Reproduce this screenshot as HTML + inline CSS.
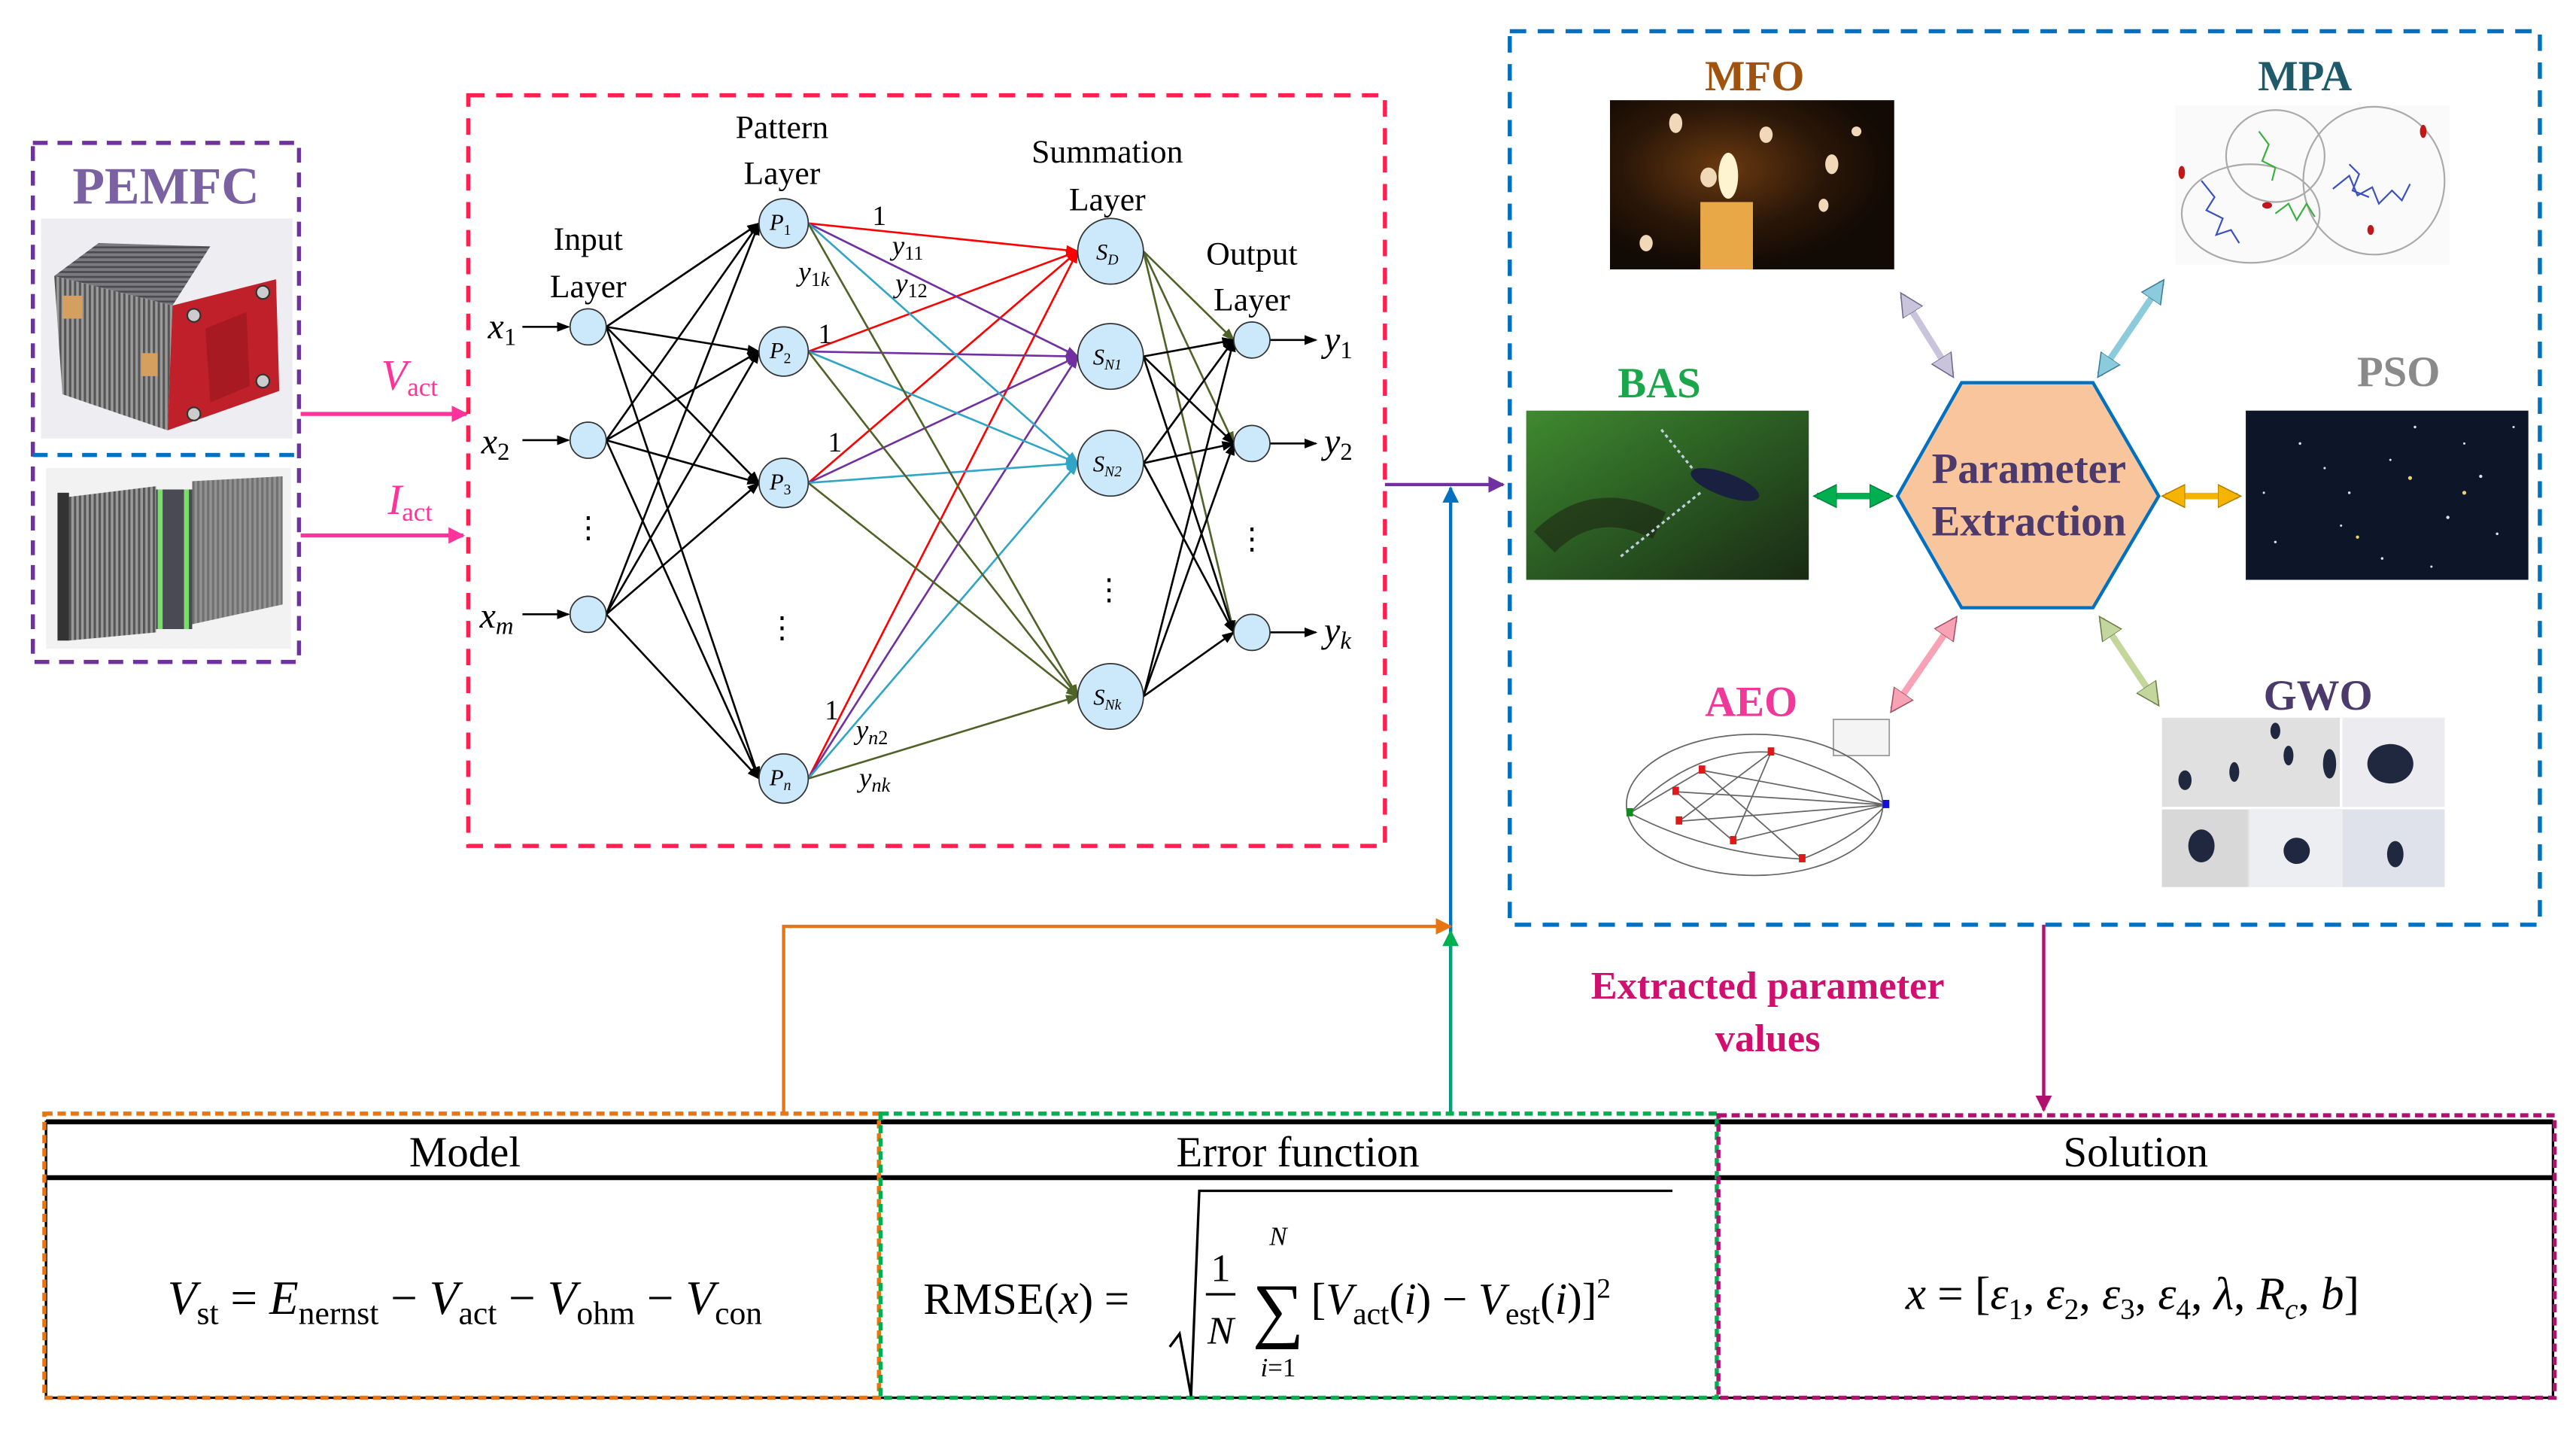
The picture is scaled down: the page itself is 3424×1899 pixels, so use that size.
<!DOCTYPE html>
<html><head><meta charset="utf-8">
<style>
html,body{margin:0;padding:0;background:#fff;}
svg{display:block;}
text{font-family:"Liberation Serif",serif;}
</style></head><body>
<svg width="3424" height="1899" viewBox="0 0 1568 870" preserveAspectRatio="none" xmlns="http://www.w3.org/2000/svg">
<defs>
<marker id="ak" markerWidth="8" markerHeight="8" refX="7" refY="4" orient="auto" markerUnits="userSpaceOnUse"><path d="M0,1 L8,4 L0,7 z" fill="#000"/></marker>
<marker id="ar" markerWidth="8" markerHeight="8" refX="7" refY="4" orient="auto" markerUnits="userSpaceOnUse"><path d="M0,1 L8,4 L0,7 z" fill="#ff0000"/></marker>
<marker id="ap" markerWidth="8" markerHeight="8" refX="7" refY="4" orient="auto" markerUnits="userSpaceOnUse"><path d="M0,1 L8,4 L0,7 z" fill="#7030a0"/></marker>
<marker id="ac" markerWidth="8" markerHeight="8" refX="7" refY="4" orient="auto" markerUnits="userSpaceOnUse"><path d="M0,1 L8,4 L0,7 z" fill="#31a5c5"/></marker>
<marker id="ao" markerWidth="8" markerHeight="8" refX="7" refY="4" orient="auto" markerUnits="userSpaceOnUse"><path d="M0,1 L8,4 L0,7 z" fill="#4f6228"/></marker>
<marker id="apk" markerWidth="10" markerHeight="10" refX="9" refY="5" orient="auto" markerUnits="userSpaceOnUse"><path d="M0,0 L10,5 L0,10 z" fill="#ff3399"/></marker>
<marker id="apu" markerWidth="10" markerHeight="10" refX="9" refY="5" orient="auto" markerUnits="userSpaceOnUse"><path d="M0,0 L10,5 L0,10 z" fill="#7030a0"/></marker>
<marker id="abl" markerWidth="10" markerHeight="10" refX="9" refY="5" orient="auto" markerUnits="userSpaceOnUse"><path d="M0,0 L10,5 L0,10 z" fill="#0070c0"/></marker>
<marker id="aor" markerWidth="10" markerHeight="10" refX="9" refY="5" orient="auto" markerUnits="userSpaceOnUse"><path d="M0,0 L10,5 L0,10 z" fill="#e87511"/></marker>
<marker id="agr" markerWidth="10" markerHeight="10" refX="9" refY="5" orient="auto" markerUnits="userSpaceOnUse"><path d="M0,0 L10,5 L0,10 z" fill="#00b050"/></marker>
<marker id="amg" markerWidth="10" markerHeight="10" refX="9" refY="5" orient="auto" markerUnits="userSpaceOnUse"><path d="M0,0 L10,5 L0,10 z" fill="#b0106e"/></marker>
<marker id="d1" markerWidth="16" markerHeight="16" refX="12" refY="8" orient="auto-start-reverse" markerUnits="userSpaceOnUse"><path d="M0,1 L14,8 L0,15 z" fill="#c9c3dc" stroke="#6a6a8a" stroke-width="0.7"/></marker>
<marker id="d2" markerWidth="16" markerHeight="16" refX="12" refY="8" orient="auto-start-reverse" markerUnits="userSpaceOnUse"><path d="M0,1 L14,8 L0,15 z" fill="#8ccbdc" stroke="#3a7a9a" stroke-width="0.7"/></marker>
<marker id="d3" markerWidth="16" markerHeight="16" refX="12" refY="8" orient="auto-start-reverse" markerUnits="userSpaceOnUse"><path d="M0,1 L14,8 L0,15 z" fill="#00b050" stroke="#00803a" stroke-width="0.7"/></marker>
<marker id="d4" markerWidth="16" markerHeight="16" refX="12" refY="8" orient="auto-start-reverse" markerUnits="userSpaceOnUse"><path d="M0,1 L14,8 L0,15 z" fill="#f4b400" stroke="#b07a00" stroke-width="0.7"/></marker>
<marker id="d5" markerWidth="16" markerHeight="16" refX="12" refY="8" orient="auto-start-reverse" markerUnits="userSpaceOnUse"><path d="M0,1 L14,8 L0,15 z" fill="#f7a3b5" stroke="#a05060" stroke-width="0.7"/></marker>
<marker id="d6" markerWidth="16" markerHeight="16" refX="12" refY="8" orient="auto-start-reverse" markerUnits="userSpaceOnUse"><path d="M0,1 L14,8 L0,15 z" fill="#c3d69b" stroke="#6a7a4a" stroke-width="0.7"/></marker>
<radialGradient id="candle" cx="0.4" cy="0.4" r="0.6"><stop offset="0" stop-color="#6a3a10"/><stop offset="0.6" stop-color="#2a1608"/><stop offset="1" stop-color="#120a04"/></radialGradient>
<linearGradient id="leaf" x1="0" y1="0" x2="1" y2="1"><stop offset="0" stop-color="#3f8a30"/><stop offset="0.5" stop-color="#2a5a22"/><stop offset="1" stop-color="#1a2a14"/></linearGradient>
<pattern id="stripes" width="3" height="10" patternUnits="userSpaceOnUse"><rect width="3" height="10" fill="#9a9a9a"/><rect width="1.4" height="10" fill="#555"/></pattern>
<pattern id="hstripes" width="10" height="3" patternUnits="userSpaceOnUse"><rect width="10" height="3" fill="#7a7a80"/><rect width="10" height="1.2" fill="#4a4a50"/></pattern>
</defs>

<!-- PEMFC box -->
<rect x="20" y="87" width="162" height="316" fill="none" stroke="#7030a0" stroke-width="2.5" stroke-dasharray="9,6"/>
<line x1="20" y1="277" x2="182" y2="277" stroke="#0070c0" stroke-width="2.5" stroke-dasharray="9,6"/>
<text x="101" y="124" font-size="32" font-weight="bold" fill="#7a62a2" text-anchor="middle">PEMFC</text>
<rect x="25" y="133" width="153" height="134" fill="#eeeef2"/>
<polygon points="33,168 60,148 128,150 105,186" fill="url(#hstripes)"/>
<polygon points="33,168 105,186 102,262 38,240" fill="url(#stripes)"/>
<polygon points="105,186 168,170 170,238 102,262" fill="#c0202a"/>
<polygon points="125,200 150,190 152,235 128,245" fill="#a81a22"/>
<rect x="38" y="180" width="12" height="14" fill="#d4a060"/>
<rect x="86" y="215" width="10" height="14" fill="#d4a060"/>
<circle cx="118" cy="192" r="4" fill="#ccc" stroke="#333"/><circle cx="160" cy="178" r="4" fill="#ccc" stroke="#333"/><circle cx="160" cy="232" r="4" fill="#ccc" stroke="#333"/><circle cx="118" cy="252" r="4" fill="#ccc" stroke="#333"/>
<rect x="28" y="285" width="149" height="110" fill="#f2f2f2"/>
<polygon points="38,303 95,296 95,385 42,390" fill="url(#stripes)"/>
<rect x="35" y="300" width="7" height="90" fill="#333"/>
<rect x="95" y="298" width="22" height="85" fill="#4a4a55"/>
<rect x="96" y="298" width="3" height="85" fill="#7adf6a"/>
<rect x="112" y="298" width="3" height="85" fill="#7adf6a"/>
<polygon points="117,293 172,290 172,368 117,380" fill="#8a8a8a"/>
<polygon points="117,293 172,290 172,368 117,380" fill="url(#stripes)" opacity="0.5"/>

<!-- pink arrows -->
<line x1="183" y1="252" x2="284" y2="252" stroke="#ff3399" stroke-width="2.5" marker-end="url(#apk)"/>
<line x1="183" y1="326" x2="282" y2="326" stroke="#ff3399" stroke-width="2.5" marker-end="url(#apk)"/>
<text x="232" y="237" font-size="26" font-style="italic" fill="#ff3399">V<tspan font-size="16" font-style="normal" dy="4">act</tspan></text>
<text x="236" y="313" font-size="26" font-style="italic" fill="#ff3399">I<tspan font-size="16" font-style="normal" dy="4">act</tspan></text>

<!-- Red dashed box -->
<rect x="285" y="58" width="558" height="457" fill="none" stroke="#ff2050" stroke-width="2.5" stroke-dasharray="10,7"/>

<g font-size="20" text-anchor="middle" fill="#000">
<text x="358" y="152">Input</text><text x="358" y="181">Layer</text>
<text x="476" y="84">Pattern</text><text x="476" y="112">Layer</text>
<text x="674" y="99">Summation</text><text x="674" y="128">Layer</text>
<text x="762" y="161">Output</text><text x="762" y="189">Layer</text>
</g>

<g stroke="#000" stroke-width="1.2" marker-end="url(#ak)">
<line x1="369" y1="199" x2="462" y2="136"/><line x1="369" y1="199" x2="462" y2="214"/><line x1="369" y1="199" x2="462" y2="294"/><line x1="369" y1="199" x2="462" y2="474"/>
<line x1="369" y1="268" x2="462" y2="136"/><line x1="369" y1="268" x2="462" y2="214"/><line x1="369" y1="268" x2="462" y2="294"/><line x1="369" y1="268" x2="462" y2="474"/>
<line x1="369" y1="374" x2="462" y2="136"/><line x1="369" y1="374" x2="462" y2="214"/><line x1="369" y1="374" x2="462" y2="294"/><line x1="369" y1="374" x2="462" y2="474"/>
<line x1="318" y1="199" x2="346" y2="199"/><line x1="318" y1="268" x2="346" y2="268"/><line x1="318" y1="374" x2="346" y2="374"/>
</g>
<g stroke-width="1.2">
<g stroke="#ff0000" marker-end="url(#ar)"><line x1="492" y1="136" x2="656" y2="153"/><line x1="492" y1="214" x2="656" y2="153"/><line x1="492" y1="294" x2="656" y2="153"/><line x1="492" y1="474" x2="656" y2="153"/></g>
<g stroke="#7030a0" marker-end="url(#ap)"><line x1="492" y1="136" x2="656" y2="217"/><line x1="492" y1="214" x2="656" y2="217"/><line x1="492" y1="294" x2="656" y2="217"/><line x1="492" y1="474" x2="656" y2="217"/></g>
<g stroke="#31a5c5" marker-end="url(#ac)"><line x1="492" y1="136" x2="656" y2="282"/><line x1="492" y1="214" x2="656" y2="282"/><line x1="492" y1="294" x2="656" y2="282"/><line x1="492" y1="474" x2="656" y2="282"/></g>
<g stroke="#4f6228" marker-end="url(#ao)"><line x1="492" y1="136" x2="656" y2="424"/><line x1="492" y1="214" x2="656" y2="424"/><line x1="492" y1="294" x2="656" y2="424"/><line x1="492" y1="474" x2="656" y2="424"/></g>
</g>
<g stroke-width="1.2">
<g stroke="#4f6228" marker-end="url(#ao)"><line x1="696" y1="153" x2="751" y2="207"/><line x1="696" y1="153" x2="751" y2="270"/><line x1="696" y1="153" x2="751" y2="385"/></g>
<g stroke="#000" marker-end="url(#ak)">
<line x1="696" y1="217" x2="751" y2="207"/><line x1="696" y1="217" x2="751" y2="270"/><line x1="696" y1="217" x2="751" y2="385"/>
<line x1="696" y1="282" x2="751" y2="207"/><line x1="696" y1="282" x2="751" y2="270"/><line x1="696" y1="282" x2="751" y2="385"/>
<line x1="696" y1="424" x2="751" y2="207"/><line x1="696" y1="424" x2="751" y2="270"/><line x1="696" y1="424" x2="751" y2="385"/>
<line x1="773" y1="207" x2="801" y2="207"/><line x1="773" y1="270" x2="801" y2="270"/><line x1="773" y1="385" x2="801" y2="385"/>
</g></g>

<g fill="#cce9fb" stroke="#333" stroke-width="0.8">
<circle cx="358" cy="199" r="11"/><circle cx="358" cy="268" r="11"/><circle cx="358" cy="374" r="11"/>
<circle cx="477" cy="136" r="15"/><circle cx="477" cy="214" r="15"/><circle cx="477" cy="294" r="15"/><circle cx="477" cy="474" r="15"/>
<circle cx="676" cy="153" r="20"/><circle cx="676" cy="217" r="20"/><circle cx="676" cy="282" r="20"/><circle cx="676" cy="424" r="20"/>
<circle cx="762" cy="207" r="11"/><circle cx="762" cy="270" r="11"/><circle cx="762" cy="385" r="11"/>
</g>
<g font-size="14" font-style="italic" text-anchor="middle">
<text x="475" y="140">P<tspan font-size="9" font-style="normal" dy="3">1</tspan></text>
<text x="475" y="218">P<tspan font-size="9" font-style="normal" dy="3">2</tspan></text>
<text x="475" y="298">P<tspan font-size="9" font-style="normal" dy="3">3</tspan></text>
<text x="475" y="478">P<tspan font-size="9" dy="3">n</tspan></text>
<text x="674" y="158">S<tspan font-size="9" dy="3">D</tspan></text>
<text x="674" y="222">S<tspan font-size="9" dy="3">N1</tspan></text>
<text x="674" y="287">S<tspan font-size="9" dy="3">N2</tspan></text>
<text x="674" y="429">S<tspan font-size="9" dy="3">Nk</tspan></text>
</g>
<g font-size="22" font-style="italic">
<text x="297" y="206">x<tspan font-size="15" font-style="normal" dy="4">1</tspan></text>
<text x="293" y="276">x<tspan font-size="15" font-style="normal" dy="4">2</tspan></text>
<text x="292" y="382">x<tspan font-size="15" dy="4">m</tspan></text>
<text x="806" y="214">y<tspan font-size="15" font-style="normal" dy="4">1</tspan></text>
<text x="806" y="276">y<tspan font-size="15" font-style="normal" dy="4">2</tspan></text>
<text x="806" y="391">y<tspan font-size="15" dy="4">k</tspan></text>
</g>
<g font-size="18" text-anchor="middle"><text x="358" y="327">⋮</text><text x="476" y="388">⋮</text><text x="675" y="365">⋮</text><text x="762" y="334">⋮</text></g>
<g font-size="17" font-style="italic">
<text x="531" y="137" font-style="normal">1</text>
<text x="543" y="155">y<tspan font-size="12" font-style="normal" dy="3">11</tspan></text>
<text x="486" y="171">y<tspan font-size="12" font-style="normal" dy="3">1</tspan><tspan font-size="12">k</tspan></text>
<text x="545" y="178">y<tspan font-size="12" font-style="normal" dy="3">12</tspan></text>
<text x="498" y="209" font-style="normal">1</text>
<text x="504" y="275" font-style="normal">1</text>
<text x="502" y="438" font-style="normal">1</text>
<text x="521" y="450">y<tspan font-size="12" dy="3">n</tspan><tspan font-size="12" font-style="normal">2</tspan></text>
<text x="523" y="479">y<tspan font-size="12" dy="3">nk</tspan></text>
</g>

<line x1="843" y1="295" x2="915" y2="295" stroke="#7030a0" stroke-width="2" marker-end="url(#apu)"/>
<line x1="883" y1="678" x2="883" y2="297" stroke="#0070c0" stroke-width="2" marker-end="url(#abl)"/>
<polyline points="477,678 477,564 883,564" fill="none" stroke="#e87511" stroke-width="2" marker-end="url(#aor)"/>
<line x1="883" y1="678" x2="883" y2="567" stroke="#00b050" stroke-width="1.5" marker-end="url(#agr)"/>
<line x1="1244" y1="563" x2="1244" y2="676" stroke="#b0106e" stroke-width="2" marker-end="url(#amg)"/>
<text x="1076" y="608" font-size="24" font-weight="bold" fill="#d0106e" text-anchor="middle">Extracted parameter</text>
<text x="1076" y="640" font-size="24" font-weight="bold" fill="#d0106e" text-anchor="middle">values</text>

<rect x="919" y="19" width="627" height="544" fill="none" stroke="#0070c0" stroke-width="2.5" stroke-dasharray="10,7"/>
<polygon points="1155,302 1194,233 1274,233 1314,302 1274,370 1194,370" fill="#f8c59c" stroke="#0070c0" stroke-width="2"/>
<text x="1235" y="294" font-size="26" font-weight="bold" fill="#4b3a6b" text-anchor="middle">Parameter</text>
<text x="1235" y="326" font-size="26" font-weight="bold" fill="#4b3a6b" text-anchor="middle">Extraction</text>

<g stroke-width="4">
<line x1="1158" y1="180" x2="1188" y2="228" stroke="#c9c3dc" marker-start="url(#d1)" marker-end="url(#d1)"/>
<line x1="1316" y1="172" x2="1278" y2="228" stroke="#8ccbdc" marker-start="url(#d2)" marker-end="url(#d2)"/>
<line x1="1106" y1="302" x2="1150" y2="302" stroke="#00b050" marker-start="url(#d3)" marker-end="url(#d3)"/>
<line x1="1318" y1="302" x2="1362" y2="302" stroke="#f4b400" marker-start="url(#d4)" marker-end="url(#d4)"/>
<line x1="1190" y1="377" x2="1152" y2="432" stroke="#f7a3b5" marker-start="url(#d5)" marker-end="url(#d5)"/>
<line x1="1279" y1="377" x2="1313" y2="428" stroke="#c3d69b" marker-start="url(#d6)" marker-end="url(#d6)"/>
</g>

<g font-size="26" font-weight="bold" text-anchor="middle">
<text x="1068" y="55" fill="#a0520f">MFO</text>
<text x="1403" y="55" fill="#1f5a6b">MPA</text>
<text x="1010" y="242" fill="#1aa64b">BAS</text>
<text x="1460" y="235" fill="#8a8a8a">PSO</text>
<text x="1066" y="436" fill="#f0389a">AEO</text>
<text x="1411" y="432" fill="#4b3a6b">GWO</text>
</g>

<rect x="980" y="61" width="173" height="103" fill="url(#candle)"/>
<rect x="1035" y="123" width="32" height="41" fill="#e8a848"/>
<ellipse cx="1052" cy="107" rx="6" ry="14" fill="#fff4d0"/>
<g fill="#f0d8b8"><ellipse cx="1020" cy="75" rx="4" ry="6"/><ellipse cx="1075" cy="82" rx="4" ry="5"/><ellipse cx="1040" cy="108" rx="5" ry="6"/><ellipse cx="1115" cy="100" rx="4" ry="6"/><ellipse cx="1002" cy="148" rx="4" ry="5"/><ellipse cx="1110" cy="125" rx="3" ry="4"/><ellipse cx="1130" cy="80" rx="3" ry="3"/></g>
<rect x="1324" y="64" width="167" height="97" fill="#fafafa"/>
<ellipse cx="1370" cy="130" rx="42" ry="30" fill="none" stroke="#aaa"/>
<ellipse cx="1445" cy="110" rx="43" ry="45" fill="none" stroke="#aaa"/>
<ellipse cx="1385" cy="95" rx="30" ry="28" fill="none" stroke="#aaa"/>
<g stroke="#3a50c0" stroke-width="1" fill="none"><path d="M1340,110 l8,10 l-5,8 l10,5 l-4,10 l9,-3 l5,8"/><path d="M1420,115 l10,-8 l5,12 l9,-5 l4,10 l8,-8 l6,6 l5,-10"/><path d="M1430,100 l6,6 l-4,10 l10,4"/></g>
<g stroke="#3ab040" stroke-width="1" fill="none"><path d="M1375,80 l6,8 l-4,10 l8,4 l-2,8"/><path d="M1385,130 l8,-6 l5,10 l6,-10 l5,8"/></g>
<g fill="#c01818"><ellipse cx="1328" cy="105" rx="2" ry="4"/><ellipse cx="1380" cy="125" rx="3" ry="2"/><ellipse cx="1475" cy="80" rx="2" ry="4"/><ellipse cx="1443" cy="140" rx="2" ry="3"/></g>
<rect x="929" y="250" width="172" height="103" fill="url(#leaf)"/>
<path d="M940,330 Q970,300 1010,320" stroke="#1a1a10" stroke-width="18" fill="none" opacity="0.5"/>
<ellipse cx="1050" cy="295" rx="22" ry="7" fill="#1a2040" transform="rotate(20 1050 295)"/>
<line x1="1030" y1="285" x2="1010" y2="260" stroke="#c0d0e0" stroke-width="1.5" stroke-dasharray="2,2"/>
<line x1="1035" y1="300" x2="985" y2="340" stroke="#c0d0e0" stroke-width="1.5" stroke-dasharray="2,2"/>
<rect x="1367" y="250" width="172" height="103" fill="#0c1628"/>
<g fill="#d8e0ff"><circle cx="1400" cy="270" r="0.8"/><circle cx="1430" cy="300" r="0.8"/><circle cx="1470" cy="260" r="0.8"/><circle cx="1510" cy="290" r="1"/><circle cx="1385" cy="330" r="0.8"/><circle cx="1450" cy="340" r="0.8"/><circle cx="1520" cy="325" r="0.8"/><circle cx="1490" cy="315" r="1"/><circle cx="1415" cy="285" r="0.7"/><circle cx="1455" cy="280" r="0.7"/><circle cx="1500" cy="270" r="0.7"/><circle cx="1378" cy="300" r="0.7"/><circle cx="1425" cy="320" r="0.7"/><circle cx="1480" cy="345" r="0.7"/><circle cx="1530" cy="260" r="0.7"/></g>
<g fill="#f0d070"><circle cx="1467" cy="291" r="1.2"/><circle cx="1500" cy="300" r="1.2"/><circle cx="1435" cy="327" r="1"/></g>
<rect x="1116" y="438" width="34" height="22" fill="#f4f4f4" stroke="#999" stroke-width="0.8"/>
<g fill="none" stroke="#666" stroke-width="0.8">
<ellipse cx="1068" cy="490" rx="78" ry="43"/>
<path d="M992,495 Q1030,455 1078,458 Q1120,470 1148,490"/>
<path d="M992,495 Q1040,520 1097,523 Q1130,510 1148,490"/>
<path d="M1020,482 L1148,490 M1036,469 L1148,490 M1022,500 L1078,458 M1036,469 L1097,523 M1055,512 L1078,458 M1020,482 L1055,512 M992,495 L1036,469 M1022,500 L1148,490 M1055,512 L1148,490"/>
</g>
<g fill="#e01818"><rect x="1076" y="455" width="4" height="5"/><rect x="1034" y="466" width="4" height="5"/><rect x="1018" y="479" width="4" height="5"/><rect x="1020" y="497" width="4" height="5"/><rect x="1053" y="509" width="4" height="5"/><rect x="1095" y="520" width="4" height="5"/></g>
<rect x="990" y="492" width="4" height="5" fill="#128a20"/><rect x="1146" y="487" width="4" height="5" fill="#1010e0"/>
<rect x="1316" y="437" width="172" height="103" fill="#e0e0e0"/>
<rect x="1425" y="437" width="63" height="55" fill="#ececf0"/>
<rect x="1316" y="493" width="52" height="47" fill="#d8d8d8"/>
<rect x="1369" y="493" width="57" height="47" fill="#eceef2"/>
<rect x="1427" y="493" width="61" height="47" fill="#dfe2ea"/>
<line x1="1316" y1="492" x2="1488" y2="492" stroke="#fff" stroke-width="1.5"/>
<line x1="1425" y1="437" x2="1425" y2="492" stroke="#fff" stroke-width="1.5"/>
<g fill="#202840"><ellipse cx="1330" cy="475" rx="4" ry="6"/><ellipse cx="1360" cy="470" rx="3" ry="6"/><ellipse cx="1393" cy="460" rx="3" ry="6"/><ellipse cx="1418" cy="465" rx="4" ry="9"/><ellipse cx="1455" cy="465" rx="14" ry="12"/><ellipse cx="1340" cy="515" rx="8" ry="10"/><ellipse cx="1398" cy="518" rx="8" ry="8"/><ellipse cx="1458" cy="520" rx="5" ry="8"/><ellipse cx="1385" cy="445" rx="3" ry="5"/></g>

<!-- bottom tables -->
<rect x="28" y="683" width="1526" height="168" fill="none" stroke="#000" stroke-width="1.5"/>
<line x1="28" y1="683" x2="1554" y2="683" stroke="#000" stroke-width="3"/>
<line x1="28" y1="717" x2="1554" y2="717" stroke="#000" stroke-width="3"/>
<rect x="27" y="678" width="508" height="173" fill="none" stroke="#e87511" stroke-width="2.5" stroke-dasharray="5,3"/>
<rect x="536" y="678" width="509" height="173" fill="none" stroke="#00b050" stroke-width="2.5" stroke-dasharray="5,3"/>
<rect x="1046" y="679" width="509" height="172" fill="none" stroke="#b0106e" stroke-width="2.5" stroke-dasharray="5,3"/>
<g font-size="26" text-anchor="middle">
<text x="283" y="710">Model</text><text x="790" y="710">Error function</text><text x="1300" y="710">Solution</text>
</g>
<text x="283" y="800" font-size="29" text-anchor="middle"><tspan font-style="italic">V</tspan><tspan font-size="20" dy="6">st</tspan><tspan dy="-6"> = </tspan><tspan font-style="italic">E</tspan><tspan font-size="20" dy="6">nernst</tspan><tspan dy="-6"> − </tspan><tspan font-style="italic">V</tspan><tspan font-size="20" dy="6">act</tspan><tspan dy="-6"> − </tspan><tspan font-style="italic">V</tspan><tspan font-size="20" dy="6">ohm</tspan><tspan dy="-6"> − </tspan><tspan font-style="italic">V</tspan><tspan font-size="20" dy="6">con</tspan></text>
<text x="562" y="800" font-size="27">RMSE(<tspan font-style="italic">x</tspan>) =</text>
<polyline points="712,820 718,812 725,850 730,725 1018,725" fill="none" stroke="#000" stroke-width="1.5"/>
<text x="743" y="780" font-size="24" text-anchor="middle">1</text>
<line x1="734" y1="788" x2="752" y2="788" stroke="#000" stroke-width="1.5"/>
<text x="743" y="818" font-size="24" font-style="italic" text-anchor="middle">N</text>
<text x="778" y="758" font-size="16" font-style="italic" text-anchor="middle">N</text>
<text x="778" y="812" font-size="44" text-anchor="middle">∑</text>
<text x="778" y="838" font-size="16" text-anchor="middle"><tspan font-style="italic">i</tspan>=1</text>
<text x="798" y="800" font-size="27">[<tspan font-style="italic">V</tspan><tspan font-size="19" dy="6">act</tspan><tspan dy="-6">(</tspan><tspan font-style="italic">i</tspan>) − <tspan font-style="italic">V</tspan><tspan font-size="19" dy="6">est</tspan><tspan dy="-6">(</tspan><tspan font-style="italic">i</tspan>)]<tspan font-size="17" dy="-10">2</tspan></text>
<text x="1298" y="797" font-size="28" text-anchor="middle"><tspan font-style="italic">x</tspan> = [<tspan font-style="italic">ε</tspan><tspan font-size="18" dy="6">1</tspan><tspan dy="-6">, </tspan><tspan font-style="italic">ε</tspan><tspan font-size="18" dy="6">2</tspan><tspan dy="-6">, </tspan><tspan font-style="italic">ε</tspan><tspan font-size="18" dy="6">3</tspan><tspan dy="-6">, </tspan><tspan font-style="italic">ε</tspan><tspan font-size="18" dy="6">4</tspan><tspan dy="-6">, </tspan><tspan font-style="italic">λ</tspan>, <tspan font-style="italic">R</tspan><tspan font-size="18" dy="6" font-style="italic">c</tspan><tspan dy="-6">, </tspan><tspan font-style="italic">b</tspan>]</text>
</svg>
</body></html>
